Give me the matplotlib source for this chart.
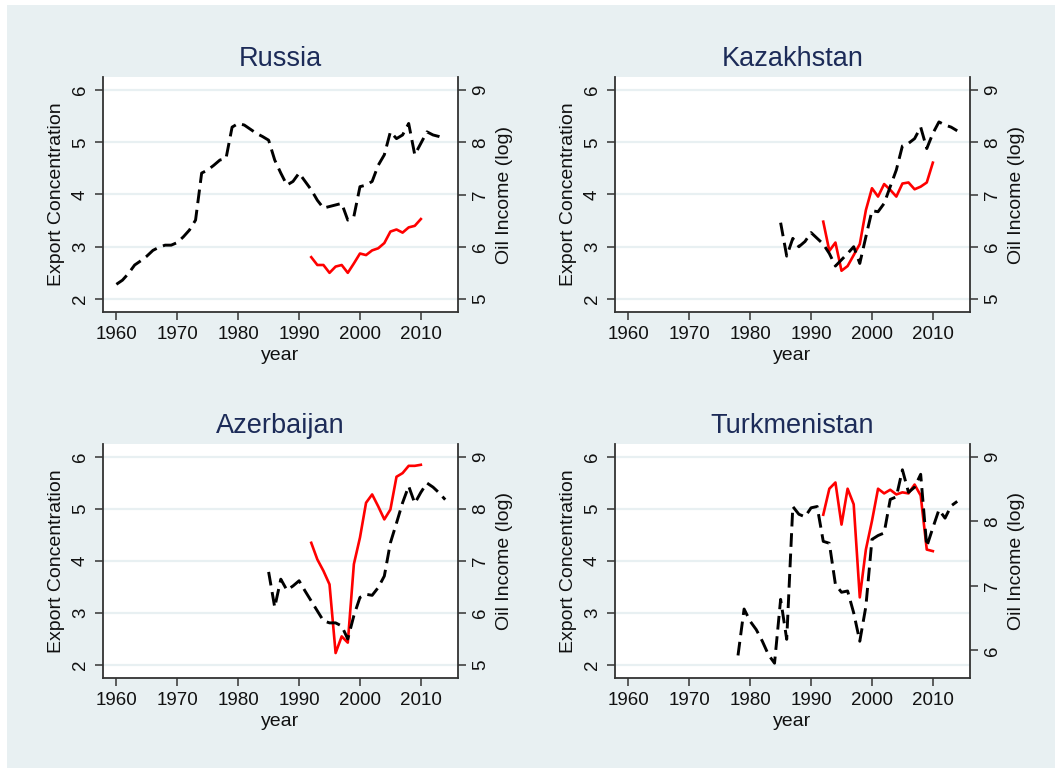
import numpy as np
import matplotlib
matplotlib.use("Agg")
from matplotlib import pyplot as plt

plt.rcParams['font.family'] = ['Liberation Sans', 'DejaVu Sans']

# export concentration (left axis, red) and oil income log (right axis, black dashed)
exp_years = np.arange(1992, 2011)

russia_oil_years = np.arange(1960, 2015)
russia_oil = [5.28, 5.36, 5.49, 5.65, 5.73, 5.82, 5.93, 5.99, 6.03, 6.03,
              6.08, 6.19, 6.32, 6.51, 7.41, 7.47, 7.56, 7.66, 7.69, 8.29,
              8.36, 8.33, 8.25, 8.17, 8.11, 8.04, 7.66, 7.41, 7.18, 7.25,
              7.41, 7.25, 7.09, 6.89, 6.74, 6.77, 6.80, 6.83, 6.51, 6.58,
              7.15, 7.18, 7.25, 7.56, 7.76, 8.20, 8.07, 8.14, 8.36, 7.76,
              7.98, 8.20, 8.14, 8.11, 8.07]
russia_exp = [2.80, 2.65, 2.65, 2.50, 2.62, 2.65, 2.50, 2.68, 2.87, 2.84,
              2.93, 2.97, 3.07, 3.29, 3.33, 3.27, 3.37, 3.40, 3.53]

kaz_oil_years = np.arange(1985, 2015)
kaz_oil = [6.46, 5.82, 6.16, 6.00, 6.10, 6.27, 6.16, 6.05, 5.87, 5.63,
           5.75, 5.87, 6.00, 5.68, 6.19, 6.69, 6.67, 6.83, 7.15, 7.47,
           7.93, 7.98, 8.07, 8.29, 7.88, 8.17, 8.39, 8.33, 8.29, 8.22]
kaz_exp = [3.48, 2.92, 3.08, 2.54, 2.63, 2.84, 3.05, 3.70, 4.12, 3.96,
           4.20, 4.09, 3.96, 4.21, 4.23, 4.10, 4.15, 4.23, 4.61]

aze_oil_years = np.arange(1985, 2015)
aze_oil = [6.79, 6.11, 6.65, 6.44, 6.52, 6.62, 6.42, 6.23, 6.04, 5.85,
           5.81, 5.81, 5.75, 5.50, 5.95, 6.30, 6.36, 6.34, 6.49, 6.71,
           7.35, 7.73, 8.12, 8.44, 8.11, 8.32, 8.50, 8.42, 8.31, 8.18]
aze_exp = [4.35, 4.03, 3.81, 3.55, 2.23, 2.55, 2.43, 3.94, 4.45, 5.12,
           5.28, 5.05, 4.80, 4.99, 5.62, 5.69, 5.83, 5.83, 5.85]

tkm_oil_years = np.arange(1978, 2015)
tkm_oil = [5.92, 6.64, 6.45, 6.32, 6.14, 5.93, 5.80, 6.79, 6.17, 8.23,
           8.11, 8.07, 8.21, 8.23, 7.69, 7.66, 7.02, 6.90, 6.92, 6.58,
           6.14, 6.68, 7.72, 7.78, 7.82, 8.34, 8.38, 8.80, 8.45, 8.53,
           8.73, 7.61, 7.90, 8.18, 8.05, 8.24, 8.31]
tkm_exp = [4.89, 5.39, 5.51, 4.70, 5.39, 5.09, 3.30, 4.22, 4.77, 5.39,
           5.30, 5.37, 5.28, 5.32, 5.30, 5.47, 5.26, 4.22, 4.19]

countries = ["Russia", "Kazakhstan", "Azerbaijan", "Turkmenistan"]
oil_years = [russia_oil_years, kaz_oil_years, aze_oil_years, tkm_oil_years]
oil = [russia_oil, kaz_oil, aze_oil, tkm_oil]
exp = [russia_exp, kaz_exp, aze_exp, tkm_exp]
right_ticks = [[5, 6, 7, 8, 9], [5, 6, 7, 8, 9], [5, 6, 7, 8, 9], [6, 7, 8, 9]]
right_lims = [(4.75, 9.25), (4.75, 9.25), (4.75, 9.25), (5.57, 9.2)]

BG = '#e8f0f2'
TITLE = '#1c2b58'
AXC = '#333333'
W, H = 1055, 768

fig = plt.figure(figsize=(W / 100, H / 100), dpi=100)
fig.patch.set_facecolor('white')
fig.patches.append(plt.Rectangle((7 / W, 0), 1, 1 - 5 / H, transform=fig.transFigure,
                                 facecolor=BG, edgecolor='none', zorder=-10))

# panel boxes in pixels: left, top, right, bottom
boxes = [(103, 77, 458, 312), (615, 77, 970, 312),
         (103, 444, 458, 678), (615, 444, 970, 678)]

for i, name in enumerate(countries):
    l, t, r, b = boxes[i]
    ax = fig.add_axes([l / W, 1 - b / H, (r - l) / W, (b - t) / H])
    ax.set_facecolor('white')
    ax.plot(exp_years, exp[i], color='#ff0000', lw=1.9, zorder=3)
    ax.set_xlim(1957.8, 2016.1)
    ax.set_ylim(1.75, 6.25)
    ax.set_xticks([1960, 1970, 1980, 1990, 2000, 2010])
    ax.set_yticks([2, 3, 4, 5, 6])
    ax.grid(axis='y', color=BG, lw=1.6)
    ax.set_axisbelow(True)
    ax.spines['top'].set_visible(False)
    ax.spines['right'].set_visible(False)
    for s in ['left', 'bottom']:
        ax.spines[s].set_color(AXC)
        ax.spines[s].set_linewidth(1.3)
    ax.tick_params(axis='both', direction='out', length=6, width=1.1,
                   color=AXC, labelsize=13.5, labelcolor='#111111')
    ax.tick_params(axis='x', pad=4)
    ax.tick_params(axis='y', pad=4)
    for lab in ax.get_yticklabels():
        lab.set_rotation(90)
        lab.set_va('center')
    ax.set_xlabel('year', fontsize=14, labelpad=3, color='#111111')
    ax.set_ylabel('Export Concentration', fontsize=14, labelpad=5, color='#111111')
    ax.set_title(name, fontsize=19.5, color=TITLE, pad=8)

    ax2 = ax.twinx()
    ax2.plot(oil_years[i], oil[i], color='black', lw=2.1,
             linestyle=(0, (4.7, 2.3)), zorder=3)
    ax2.set_ylim(*right_lims[i])
    ax2.set_yticks(right_ticks[i])
    ax2.spines['top'].set_visible(False)
    ax2.spines['left'].set_visible(False)
    ax2.spines['bottom'].set_visible(False)
    ax2.spines['right'].set_color(AXC)
    ax2.spines['right'].set_linewidth(1.3)
    ax2.tick_params(axis='y', direction='out', length=6, width=1.1, pad=4,
                    color=AXC, labelsize=13.5, labelcolor='#111111')
    for lab in ax2.get_yticklabels():
        lab.set_rotation(90)
        lab.set_va('center')
    ax2.set_ylabel('Oil Income (log)', fontsize=14, labelpad=5, color='#111111')

fig.savefig('out.png', dpi=100)
